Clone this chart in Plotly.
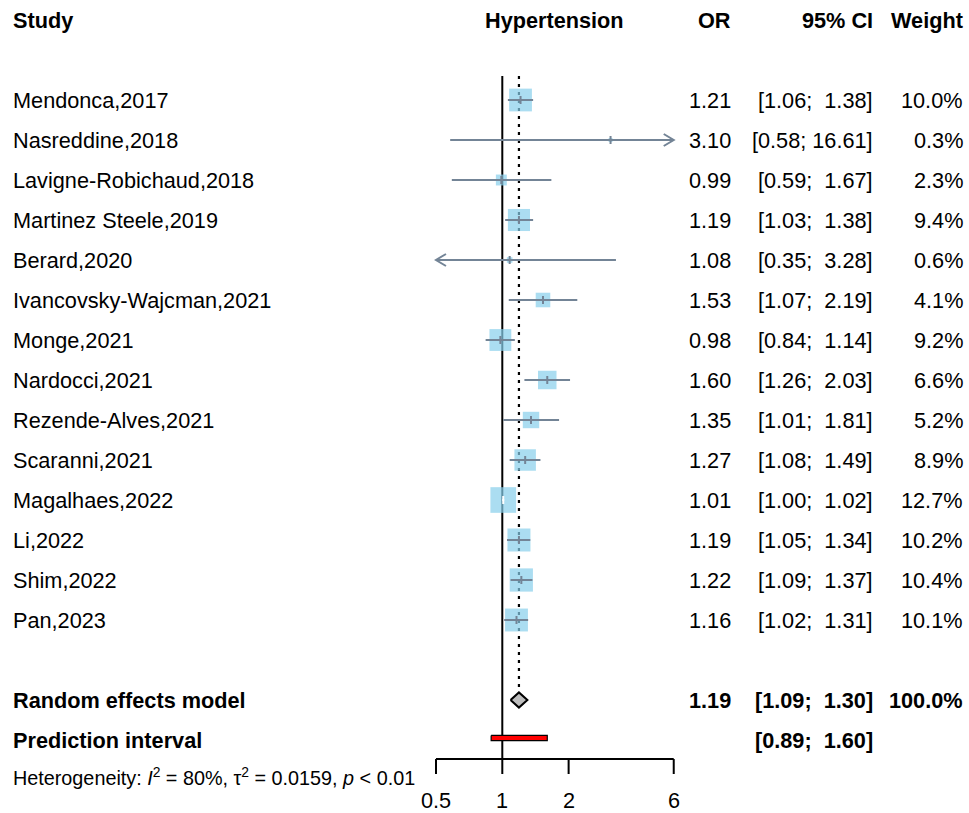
import numpy as np
import plotly.graph_objects as go

# ---- study data -------------------------------------------------------
studies = [
    "Mendonca,2017", "Nasreddine,2018", "Lavigne-Robichaud,2018",
    "Martinez Steele,2019", "Berard,2020", "Ivancovsky-Wajcman,2021",
    "Monge,2021", "Nardocci,2021", "Rezende-Alves,2021", "Scaranni,2021",
    "Magalhaes,2022", "Li,2022", "Shim,2022", "Pan,2023",
]
odds_ratio = [1.21, 3.10, 0.99, 1.19, 1.08, 1.53, 0.98, 1.60, 1.35, 1.27,
              1.01, 1.19, 1.22, 1.16]
ci_lower = [1.06, 0.58, 0.59, 1.03, 0.35, 1.07, 0.84, 1.26, 1.01, 1.08,
            1.00, 1.05, 1.09, 1.02]
ci_upper = [1.38, 16.61, 1.67, 1.38, 3.28, 2.19, 1.14, 2.03, 1.81, 1.49,
            1.02, 1.34, 1.37, 1.31]
weights = [10.0, 0.3, 2.3, 9.4, 0.6, 4.1, 9.2, 6.6, 5.2, 8.9,
           12.7, 10.2, 10.4, 10.1]

pooled_or = 1.19
pooled_ci = [1.09, 1.30]
pooled_weight = 100.0
prediction_interval = [0.89, 1.60]

axis_ticks = [0.5, 1, 2, 6]
tick_labels = ["0.5", "1", "2", "6"]

i2_pct = 80
tau2 = 0.0159
p_text = "&lt; 0.01"

# ---- geometry ---------------------------------------------------------
W, H = 969, 813
PX_PER_DECADE = 220.3
X_RANGE = [-502.3 / PX_PER_DECADE, (W - 502.3) / PX_PER_DECADE]
ROW_PX = 40.0
Y_RANGE = [(H - 100) / ROW_PX, -100 / ROW_PX]   # row 0 sits 100 px from top

lo_lim, hi_lim = axis_ticks[0], axis_ticks[-1]
n = len(studies)
rows = list(range(n))
row_header = -2
row_pooled = n + 1
row_pred = n + 2
row_axis = (759 - 100) / ROW_PX
row_ticklab = (800 - 100) / ROW_PX
row_het = (776 - 100) / ROW_PX
row_top = (76 - 100) / ROW_PX

FONT = "Liberation Sans, Arial, sans-serif"
FS = 21.7
BOX_COL = "#87CEEB"
CI_COL = "#738496"

fig = go.Figure()


def seg_trace(xs, ys, color, width, dash=None):
    fig.add_trace(go.Scatter(x=xs, y=ys, mode="lines",
                             line=dict(color=color, width=width, dash=dash),
                             hoverinfo="skip", showlegend=False))


# reference lines: null effect and pooled estimate
seg_trace([1, 1], [row_top, row_axis], "black", 2)
seg_trace([pooled_or, pooled_or], [row_top, row_pooled - 0.19], "black", 2.2,
          dash="3px,5px")

# weight-scaled squares
sizes = [7.2 * np.sqrt(w) for w in weights]
fig.add_trace(go.Scatter(
    x=odds_ratio, y=rows, mode="markers",
    marker=dict(symbol="square", size=sizes, color=BOX_COL, line=dict(width=0)),
    hoverinfo="skip", showlegend=False))

# confidence intervals (white when the interval lies well inside its square)
seg = {CI_COL: ([], []), "white": ([], [])}
arrows = ([], [])
d_arrow = 10 / PX_PER_DECADE
for r, est, lo, up, sz in zip(rows, odds_ratio, ci_lower, ci_upper, sizes):
    half = sz / 2
    lo_px = (np.log10(est) - np.log10(lo)) * PX_PER_DECADE
    up_px = (np.log10(up) - np.log10(est)) * PX_PER_DECADE
    col = "white" if max(lo_px, up_px) <= 0.75 * half else CI_COL
    xs, ys = seg[col]
    a, b = max(lo, lo_lim), min(up, hi_lim)
    xs += [a, b, None, est, est, None]
    ys += [r, r, None, r - 0.1, r + 0.1, None]
    if up > hi_lim:
        f = 10 ** (-d_arrow)
        arrows[0].extend([hi_lim * f, hi_lim, hi_lim * f, None])
        arrows[1].extend([r - 0.15, r, r + 0.15, None])
    if lo < lo_lim:
        f = 10 ** (d_arrow)
        arrows[0].extend([lo_lim * f, lo_lim, lo_lim * f, None])
        arrows[1].extend([r - 0.15, r, r + 0.15, None])
for col, (xs, ys) in seg.items():
    if xs:
        seg_trace(xs, ys, col, 2)
seg_trace(arrows[0], arrows[1], CI_COL, 2)

# pooled diamond
fig.add_trace(go.Scatter(
    x=[pooled_ci[0], pooled_or, pooled_ci[1], pooled_or, pooled_ci[0]],
    y=[row_pooled, row_pooled - 0.19, row_pooled, row_pooled + 0.19, row_pooled],
    mode="lines", fill="toself", fillcolor="#BEBEBE",
    line=dict(color="black", width=2), hoverinfo="skip", showlegend=False))

# prediction interval bar
pl, pu = prediction_interval
hb = 0.065
yc = row_pred - 0.05
fig.add_trace(go.Scatter(
    x=[pl, pu, pu, pl, pl],
    y=[yc - hb, yc - hb, yc + hb, yc + hb, yc - hb],
    mode="lines", fill="toself", fillcolor="red",
    line=dict(color="black", width=1.2), hoverinfo="skip", showlegend=False))

# x axis line with ticks
ax_x = [lo_lim, hi_lim, None]
ax_y = [row_axis, row_axis, None]
for t in axis_ticks:
    ax_x += [t, t, None]
    ax_y += [row_axis, row_axis + 15 / ROW_PX, None]
seg_trace(ax_x, ax_y, "black", 2)

# ---- text -------------------------------------------------------------
ann = []


def txt(text, x, y, xanchor="left", bold=False, size=FS, xref="paper"):
    ann.append(dict(
        text=f"<b>{text}</b>" if bold else text,
        x=x / W if xref == "paper" else x, xref=xref, y=y, yref="y",
        xanchor=xanchor, yanchor="middle", showarrow=False,
        font=dict(family=FONT, size=size, color="black")))


NB = "\u00a0"


def ci_text(lo, up):
    return f"[{lo:.2f};{NB}" + f"{up:.2f}".rjust(5, NB) + "]"


X_STUDY, X_OR, X_CI, X_W = 11, 733, 875, 965

txt("Study", X_STUDY, row_header, bold=True)
txt("Hypertension", np.log10(np.sqrt(lo_lim * hi_lim)), row_header,
    xanchor="center", bold=True, xref="x")
txt("OR", X_OR, row_header, "right", bold=True)
txt("95% CI", X_CI, row_header, "right", bold=True)
txt("Weight", X_W, row_header, "right", bold=True)

for r, s, est, lo, up, w in zip(rows, studies, odds_ratio, ci_lower,
                                ci_upper, weights):
    txt(s, X_STUDY, r)
    txt(f"{est:.2f}", X_OR, r, "right")
    txt(ci_text(lo, up), X_CI, r, "right")
    txt(f"{w:.1f}%", X_W, r, "right")

txt("Random effects model", X_STUDY, row_pooled, bold=True)
txt(f"{pooled_or:.2f}", X_OR, row_pooled, "right", bold=True)
txt(ci_text(*pooled_ci), X_CI, row_pooled, "right", bold=True)
txt(f"{pooled_weight:.1f}%", X_W, row_pooled, "right", bold=True)

txt("Prediction interval", X_STUDY, row_pred, bold=True)
txt(ci_text(*prediction_interval), X_CI, row_pred, "right", bold=True)

txt(f"Heterogeneity: <i>I</i><sup>2</sup> = {i2_pct}%, "
    f"\u03c4<sup>2</sup> = {tau2:.4f}, <i>p</i> {p_text}",
    X_STUDY, row_het, size=19.8)

for t, lab in zip(axis_ticks, tick_labels):
    txt(lab, np.log10(t), row_ticklab, xanchor="center", xref="x")

fig.update_layout(
    width=W, height=H, autosize=False,
    margin=dict(l=0, r=0, t=0, b=0, pad=0),
    paper_bgcolor="white", plot_bgcolor="white",
    xaxis=dict(type="log", range=X_RANGE, visible=False, fixedrange=True),
    yaxis=dict(range=Y_RANGE, visible=False, fixedrange=True),
    annotations=ann, showlegend=False,
)

fig.write_html("out.html")
